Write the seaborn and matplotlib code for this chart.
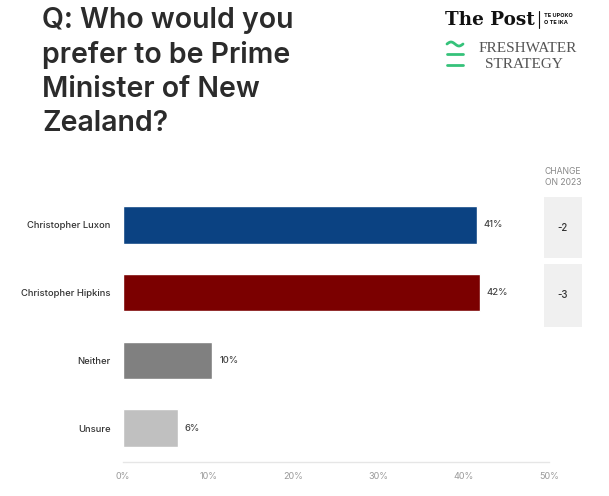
import matplotlib
matplotlib.use("Agg")
import matplotlib.pyplot as plt
import seaborn as sns
import pandas as pd
import numpy as np
from matplotlib.patches import Rectangle

categories = ["Christopher Luxon", "Christopher Hipkins", "Neither", "Unsure"]
values = [41.5, 41.9, 10.5, 6.4]
value_labels = ["41%", "42%", "10%", "6%"]
colors = ["#0b4282", "#7b0000", "#808080", "#c0c0c0"]
changes = ["-2", "-3"]
xticks = [0, 10, 20, 30, 40, 50]
xtick_labels = ["0%", "10%", "20%", "30%", "40%", "50%"]

sns.set_theme(style="white")
plt.rcParams["font.family"] = ["Inter", "DejaVu Sans"]

W, H = 609, 496
fig = plt.figure(figsize=(W / 100, H / 100), dpi=100)
fig.patch.set_facecolor("white")

def fx(px):
    return px / W

def fy(py):
    return 1 - py / H

df = pd.DataFrame({"cat": categories, "val": values})
ax = fig.add_axes([fx(123), fy(462), fx(549) - fx(123), fy(191) - fy(462)])
sns.barplot(data=df, y="cat", x="val", hue="cat", palette=colors, order=categories,
            hue_order=categories, legend=False, width=0.55, ax=ax, saturation=1)
ax.set_xlim(0, 50)
ax.set_ylim(3.5, -0.5)
ax.set_xlabel("")
ax.set_ylabel("")
ax.set_xticks(xticks)
ax.set_xticklabels(xtick_labels, color="#9a9a9a", fontsize=6.5)
ax.tick_params(axis="x", length=0, pad=7)
ax.tick_params(axis="y", length=0, pad=9)
for lbl in ax.get_yticklabels():
    lbl.set_fontsize(6.8)
    lbl.set_color("#333333")
    lbl.set_fontweight("medium")
for s in ["top", "right", "left"]:
    ax.spines[s].set_visible(False)
ax.spines["bottom"].set_color("#e6e6e6")
ax.spines["bottom"].set_linewidth(1)
ax.set_facecolor("none")

for i, (v, t) in enumerate(zip(values, value_labels)):
    ax.text(v + 0.8, i, t, va="center", ha="left", fontsize=6.8, color="#444444",
            fontweight="medium")

# Title
fig.text(fx(42), fy(7), "Q: Who would you\nprefer to be Prime\nMinister of New\nZealand?",
         ha="left", va="top", fontsize=20.5, fontweight="semibold", color="#2b2b2b",
         linespacing=1.33)

# Logos
fig.text(fx(445), fy(20), "The Post", ha="left", va="center", fontsize=13.2,
         fontweight="bold", family=["DejaVu Serif"], color="#111111")
fig.add_artist(plt.Line2D([fx(539), fx(539)], [fy(11), fy(28)], color="#111111", lw=0.8))
fig.text(fx(544), fy(15.5), "TE UPOKO", ha="left", va="center", fontsize=4, fontweight="bold", color="#111111")
fig.text(fx(544), fy(23), "O TE IKA", ha="left", va="center", fontsize=4, fontweight="bold", color="#111111")
wx = np.linspace(447, 463, 30)
wy = 44 - 2 * np.sin((wx - 447) / 16 * 2 * np.pi)
fig.add_artist(plt.Line2D(fx(wx), fy(wy), color="#35c27a", lw=2))
for yy in [54, 65]:
    fig.add_artist(plt.Line2D([fx(447), fx(463)], [fy(yy), fy(yy)], color="#35c27a", lw=2))
fig.text(fx(479), fy(48), "FRESHWATER", ha="left", va="center", fontsize=11,
         family=["Liberation Serif"], color="#555555")
fig.text(fx(485), fy(64), "STRATEGY", ha="left", va="center", fontsize=11,
         family=["Liberation Serif"], color="#555555")

# Change column
fig.text(fx(563), fy(177), "CHANGE\nON 2023", ha="center", va="center", fontsize=6.2,
         color="#888888", linespacing=1.3)
boxes = [(197, 258), (264, 327)]
for (top, bot), c in zip(boxes, changes):
    fig.add_artist(Rectangle((fx(544), fy(bot)), fx(582) - fx(544), fy(top) - fy(bot),
                             transform=fig.transFigure, facecolor="#f0f0f0", edgecolor="none"))
    fig.text(fx(563), fy((top + bot) / 2), c, ha="center", va="center", fontsize=7,
             color="#333333", fontweight="medium")

fig.savefig("out.png", dpi=100)
